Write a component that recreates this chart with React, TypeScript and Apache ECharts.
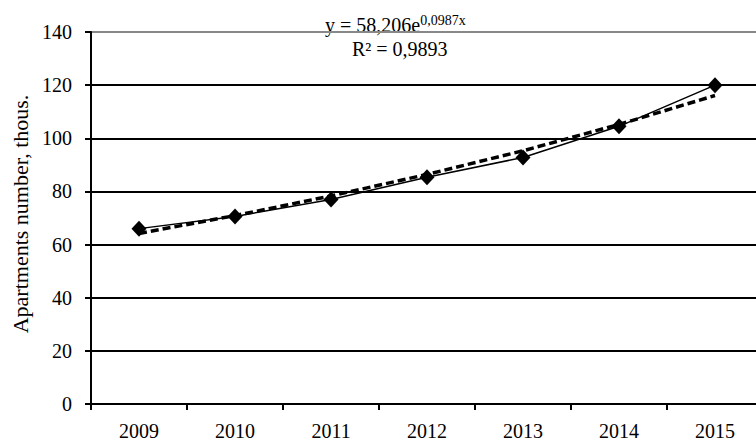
import React, { useEffect, useRef } from "react";
import * as echarts from "echarts";

const years = ["2009", "2010", "2011", "2012", "2013", "2014", "2015"];
const apartments = [66, 70.6, 77, 85.3, 92.8, 104.5, 120];
const trend = [64.2, 70.9, 78.3, 86.4, 95.3, 105.2, 116.1];
const equationText = "y = 58,206e";
const equationExp = "0,0987x";
const r2Text = "R² = 0,9893";
const yAxisTitle = "Apartments number, thous.";

const FONT = "'Liberation Serif', 'Times New Roman', serif";

export default function App() {
  const ref = useRef<HTMLDivElement>(null);
  useEffect(() => {
    if (!ref.current) return;
    const chart = echarts.init(ref.current, undefined, { renderer: "svg" });
    chart.setOption({
      animation: false,
      backgroundColor: "#fff",
      grid: { left: 91, top: 32, right: -7, bottom: 37, containLabel: false, outerBoundsMode: "none" },
      xAxis: {
        type: "category",
        data: years,
        boundaryGap: true,
        axisLine: { show: true, lineStyle: { color: "#000", width: 2 } },
        axisTick: { show: true, length: 6, lineStyle: { color: "#000", width: 2 }, alignWithLabel: false },
        axisLabel: { color: "#000", fontFamily: FONT, fontSize: 20, margin: 17 },
        splitLine: { show: false },
      },
      yAxis: {
        type: "value",
        min: 0,
        max: 140,
        interval: 20,
        name: yAxisTitle,
        nameLocation: "middle",
        nameGap: 60,
        nameRotate: 90,
        nameTextStyle: { color: "#000", fontFamily: FONT, fontSize: 22, padding: [0, 0, 0, 8] },
        axisLine: { show: true, lineStyle: { color: "#000", width: 2 } },
        axisTick: { show: true, length: 6, lineStyle: { color: "#000", width: 2 } },
        axisLabel: { color: "#000", fontFamily: FONT, fontSize: 20, margin: 19 },
        splitLine: {
          show: true,
          lineStyle: {
            color: ["#000", "#000", "#000", "#000", "#000", "#000", "#000", "#888"],
            width: 2,
          },
        },
      },
      series: [
        {
          name: "trend",
          type: "line",
          data: trend,
          symbol: "none",
          lineStyle: { color: "#000", width: 3.5, type: [8, 4] },
          z: 2,
        },
        {
          name: "apartments",
          type: "line",
          data: apartments,
          symbol: "diamond",
          symbolSize: [15, 16],
          itemStyle: { color: "#000" },
          lineStyle: { color: "#000", width: 1.5 },
          z: 3,
        },
      ],
      graphic: [
        {
          type: "text",
          left: 325,
          top: 13,
          style: {
            text: `{a|${equationText}}{b|${equationExp}}`,
            rich: {
              a: { fontFamily: FONT, fontSize: 20, fill: "#000", verticalAlign: "bottom", lineHeight: 22 },
              b: { fontFamily: FONT, fontSize: 14, fill: "#000", verticalAlign: "top", lineHeight: 22, padding: [0, 0, 6, 0] },
            },
          },
        },
        {
          type: "text",
          left: 352,
          top: 39,
          style: { text: r2Text, fontFamily: FONT, fontSize: 20, fill: "#000" },
        },
      ],
    });
    return () => chart.dispose();
  }, []);
  return <div ref={ref} style={{ width: 756, height: 441, position: "absolute", left: 0, top: 0 }} />;
}
